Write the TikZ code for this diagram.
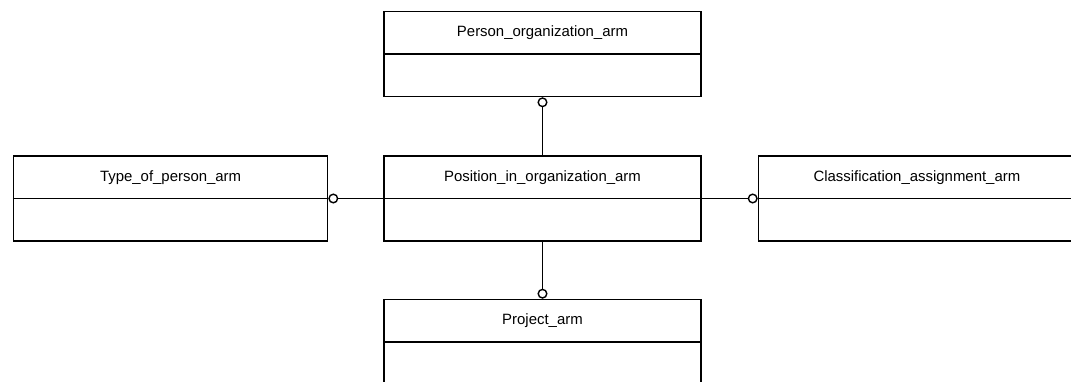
\documentclass[tikz,border=0pt]{standalone}
\usepackage{fontspec}
\setmainfont{Liberation Sans}
\usetikzlibrary{positioning, arrows.meta}

\tikzset{
  entity/.style={draw, line width=0.8pt, minimum width=6.34cm, minimum height=1.7cm, inner sep=0pt},
  link/.style={line width=0.8pt, -{Circle[length=0.2cm, width=0.2cm, fill=white]}},
  title/.style={font=\fontsize{8.5}{10}\selectfont},
}

\begin{document}
\begin{tikzpicture}
  \useasboundingbox (0,0) rectangle (21.42,-7.62);

  % entities
  \node[entity] (pos) at (10.85,-3.97) {};
  \node[entity, above=1.16cm of pos] (per) {};
  \node[entity, below=1.14cm of pos] (prj) {};
  \node[entity, minimum width=6.28cm, left=1.1cm of pos] (typ) {};
  \node[entity, right=1.12cm of pos] (cls) {};

  % dividers and titles
  \foreach \e/\t in {per/Person\_organization\_arm, pos/Position\_in\_organization\_arm,
      typ/Type\_of\_person\_arm, cls/Classification\_assignment\_arm, prj/Project\_arm} {
    \draw[line width=0.8pt] (\e.west) -- (\e.east);
    \node[title] at ([yshift=0.425cm]\e.center) {\t};
  }

  % relations
  \draw[link] (pos.north) -- (per.south);
  \draw[link] (pos.west) -- (typ.east);
  \draw[link] (pos.east) -- (cls.west);
  \draw[link] (pos.south) -- (prj.north);
\end{tikzpicture}
\end{document}
